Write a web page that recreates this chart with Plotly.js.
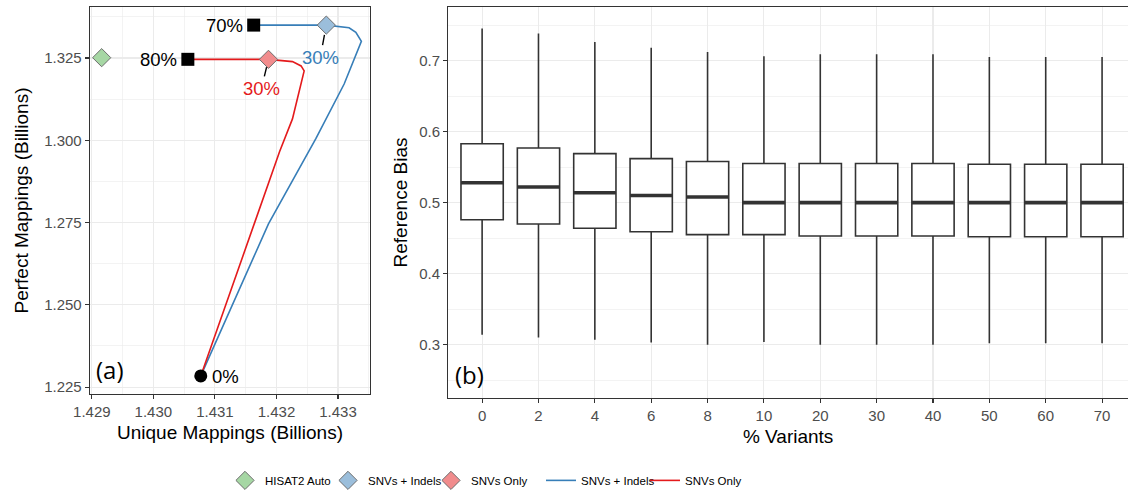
<!DOCTYPE html>
<html>
<head>
<meta charset="utf-8">
<script src="https://cdn.plot.ly/plotly-3.0.1.min.js"></script>
<style>
html,body{margin:0;padding:0;background:#fff;}
#chart{width:1128px;height:495px;}
</style>
</head>
<body>
<div id="chart"></div>
<script>
// ---------- Panel (a): mappings (billions) ----------
// Trajectory points, 0% variants at index 0 through the final % variants
const snvIndelUnique  = [1.43077, 1.43187, 1.43264, 1.43310, 1.43338, 1.43329, 1.43318, 1.43281, 1.43163];
const snvIndelPerfect = [1.2284, 1.2746, 1.3005, 1.3171, 1.3301, 1.3328, 1.3342, 1.3350, 1.3350];
const snvOnlyUnique   = [1.43077, 1.43163, 1.43205, 1.43226, 1.43234, 1.43245, 1.43240, 1.43226, 1.43187, 1.43056];
const snvOnlyPerfect  = [1.2284, 1.2746, 1.2965, 1.3065, 1.3126, 1.3211, 1.3226, 1.3239, 1.3246, 1.3246];
const snvIndelAutoIdx = 7;   // index of 30% point (HISAT2 auto threshold)
const snvOnlyAutoIdx  = 8;
const hisatAutoUnique  = [1.42916];
const hisatAutoPerfect = [1.3251];
const autoLabel = "30%";
const startLabel = "0%";
const snvIndelEndLabel = "70%";
const snvOnlyEndLabel = "80%";

// ---------- Panel (b): reference bias boxplots ----------
const variantCats   = ["0","2","4","6","8","10","20","30","40","50","60","70"];
const lowerWhisker  = [0.314,0.310,0.307,0.303,0.300,0.304,0.300,0.300,0.300,0.302,0.302,0.302];
const q1            = [0.476,0.470,0.464,0.459,0.455,0.455,0.453,0.453,0.453,0.452,0.452,0.452];
const medians       = [0.528,0.522,0.514,0.510,0.508,0.500,0.500,0.500,0.500,0.500,0.500,0.500];
const q3            = [0.583,0.577,0.569,0.562,0.558,0.555,0.555,0.555,0.555,0.554,0.554,0.554];
const upperWhisker  = [0.745,0.738,0.726,0.718,0.712,0.706,0.709,0.709,0.709,0.705,0.705,0.705];

const BLUE = "#377eb8", RED = "#e41a1c";
const last = a => a[a.length-1];

const traces = [
  {type:"scatter", mode:"lines", x:snvIndelUnique, y:snvIndelPerfect, name:"SNVs + Indels",
   line:{color:BLUE, width:1.6}, xaxis:"x", yaxis:"y", legend:"legend2", hoverinfo:"skip"},
  {type:"scatter", mode:"lines", x:snvOnlyUnique, y:snvOnlyPerfect, name:"SNVs Only",
   line:{color:RED, width:1.6}, xaxis:"x", yaxis:"y", legend:"legend2", hoverinfo:"skip"},
  {type:"scatter", mode:"markers", x:hisatAutoUnique, y:hisatAutoPerfect, name:"HISAT2 Auto",
   marker:{symbol:"diamond", size:14, color:"#a6d7a4", line:{color:"#6e6e6e", width:1}},
   xaxis:"x", yaxis:"y", legend:"legend"},
  {type:"scatter", mode:"markers", x:[snvIndelUnique[snvIndelAutoIdx]], y:[snvIndelPerfect[snvIndelAutoIdx]], name:"SNVs + Indels",
   marker:{symbol:"diamond", size:14, color:"#9bbedb", line:{color:"#6e6e6e", width:1}},
   xaxis:"x", yaxis:"y", legend:"legend"},
  {type:"scatter", mode:"markers", x:[snvOnlyUnique[snvOnlyAutoIdx]], y:[snvOnlyPerfect[snvOnlyAutoIdx]], name:"SNVs Only",
   marker:{symbol:"diamond", size:14, color:"#f18c8d", line:{color:"#6e6e6e", width:1}},
   xaxis:"x", yaxis:"y", legend:"legend"},
  {type:"scatter", mode:"markers", x:[last(snvIndelUnique), last(snvOnlyUnique)], y:[last(snvIndelPerfect), last(snvOnlyPerfect)],
   marker:{symbol:"square", size:13, color:"#000"}, showlegend:false, xaxis:"x", yaxis:"y"},
  {type:"scatter", mode:"markers", x:[snvIndelUnique[0]], y:[snvIndelPerfect[0]],
   marker:{symbol:"circle", size:13, color:"#000"}, showlegend:false, xaxis:"x", yaxis:"y"},
  // boxplots
  {type:"box", x:variantCats, q1:q1, median:medians, q3:q3, lowerfence:lowerWhisker, upperfence:upperWhisker,
   width:0.75, whiskerwidth:0, fillcolor:"#ffffff", line:{color:"#333333", width:1.6},
   showlegend:false, xaxis:"x2", yaxis:"y2", hoverinfo:"skip"},
  {type:"scatter", mode:"markers", x:variantCats, y:medians, showlegend:false, xaxis:"x2", yaxis:"y2",
   marker:{symbol:"line-ew", size:30, color:"#333333", line:{color:"#333333", width:3.6}}, hoverinfo:"skip"}
];

const tickFont = {family:"Liberation Sans, Arial, sans-serif", size:15, color:"#4d4d4d"};
const titleFont = {family:"Liberation Sans, Arial, sans-serif", size:19, color:"#000"};
const legendFont = {family:"Liberation Sans, Arial, sans-serif", size:11.5, color:"#000"};
const gridC = "#ebebeb";

const annFont = (c)=>({family:"Liberation Sans, Arial, sans-serif", size:18.5, color:c});

const layout = {
  width:1128, height:495,
  margin:{l:0, r:0, t:7, b:94},
  paper_bgcolor:"#fff", plot_bgcolor:"#fff",
  font:{family:"Liberation Sans, Arial, sans-serif"},
  xaxis:{domain:[90/1128, 370/1128], range:[1.42897, 1.43352], anchor:"y",
    tickvals:[1.429,1.430,1.431,1.432,1.433], tickformat:".3f", tickfont:tickFont,
    showgrid:true, gridcolor:gridC, gridwidth:1.1, zeroline:false,
    minor:{dtick:0.0005, tick0:1.4285, showgrid:true, gridcolor:gridC, gridwidth:0.6, ticks:""},
    showline:true, mirror:true, linecolor:"#333333", linewidth:1.3,
    ticks:"outside", ticklen:4, tickcolor:"#333333", tickwidth:1.1,
    title:{text:"Unique Mappings (Billions)", font:titleFont, standoff:6}},
  yaxis:{domain:[4/394, 1], range:[1.2229, 1.3405], anchor:"x",
    tickvals:[1.225,1.250,1.275,1.300,1.325], tickformat:".3f", tickfont:tickFont,
    showgrid:true, gridcolor:gridC, gridwidth:1.1, zeroline:false,
    minor:{dtick:0.0125, tick0:1.2125, showgrid:true, gridcolor:gridC, gridwidth:0.6, ticks:""},
    showline:true, mirror:true, linecolor:"#333333", linewidth:1.3,
    ticks:"outside", ticklen:4, tickcolor:"#333333", tickwidth:1.1,
    title:{text:"Perfect Mappings (Billions)", font:titleFont, standoff:10}},
  xaxis2:{domain:[448.3/1128, 1], type:"category", range:[-0.6, 11.46], anchor:"y2",
    categoryorder:"array", categoryarray:variantCats, tickfont:tickFont,
    showgrid:true, gridcolor:gridC, gridwidth:1.1, zeroline:false,
    showline:true, mirror:true, linecolor:"#333333", linewidth:1.3,
    ticks:"outside", ticklen:4, tickcolor:"#333333", tickwidth:1.1,
    title:{text:"% Variants", font:titleFont, standoff:6}},
  yaxis2:{domain:[0, 1], range:[0.225, 0.7754], anchor:"x2",
    tickvals:[0.3,0.4,0.5,0.6,0.7], tickfont:tickFont,
    showgrid:true, gridcolor:gridC, gridwidth:1.1, zeroline:false,
    minor:{dtick:0.05, tick0:0.25, showgrid:true, gridcolor:gridC, gridwidth:0.6, ticks:""},
    showline:true, mirror:false, linecolor:"#333333", linewidth:1.3,
    ticks:"outside", ticklen:4, tickcolor:"#333333", tickwidth:1.1,
    title:{text:"Reference Bias", font:titleFont, standoff:6}},
  legend:{orientation:"h", x:225/1128, xanchor:"left", y:-0.2107, yanchor:"middle",
    entrywidth:58, entrywidthmode:"pixels", font:legendFont, bgcolor:"rgba(0,0,0,0)"},
  legend2:{orientation:"h", x:541/1128, xanchor:"left", y:-0.2107, yanchor:"middle",
    entrywidth:59, entrywidthmode:"pixels", font:legendFont, bgcolor:"rgba(0,0,0,0)"},
  annotations:[
    {xref:"x", yref:"y", x:last(snvIndelUnique), y:last(snvIndelPerfect), text:snvIndelEndLabel,
     showarrow:false, xanchor:"right", xshift:-9, font:annFont("#000")},
    {xref:"x", yref:"y", x:last(snvOnlyUnique), y:last(snvOnlyPerfect), text:snvOnlyEndLabel,
     showarrow:false, xanchor:"right", xshift:-9, font:annFont("#000")},
    {xref:"x", yref:"y", x:snvIndelUnique[0], y:snvIndelPerfect[0], text:startLabel,
     showarrow:false, xanchor:"left", xshift:9, yshift:-1, font:annFont("#000")},
    {xref:"x", yref:"y", x:snvIndelUnique[snvIndelAutoIdx], y:snvIndelPerfect[snvIndelAutoIdx], text:autoLabel,
     showarrow:true, arrowhead:0, arrowwidth:1.4, arrowcolor:"#000", ax:-6, ay:32, standoff:10,
     font:annFont(BLUE)},
    {xref:"x", yref:"y", x:snvOnlyUnique[snvOnlyAutoIdx], y:snvOnlyPerfect[snvOnlyAutoIdx], text:autoLabel,
     showarrow:true, arrowhead:0, arrowwidth:1.4, arrowcolor:"#000", ax:-7, ay:29, standoff:8,
     font:annFont(RED)},
    {xref:"x domain", yref:"y domain", x:0, y:0, xanchor:"left", yanchor:"bottom", xshift:4, yshift:6,
     text:"(a)", showarrow:false, font:{family:"Open Sans, sans-serif", size:24, color:"#000"}},
    {xref:"x2 domain", yref:"y2 domain", x:0, y:0, xanchor:"left", yanchor:"bottom", xshift:5, yshift:5,
     text:"(b)", showarrow:false, font:{family:"Open Sans, sans-serif", size:24, color:"#000"}}
  ]
};

Plotly.newPlot("chart", traces, layout, {displayModeBar:false, staticPlot:true});
</script>
</body>
</html>
